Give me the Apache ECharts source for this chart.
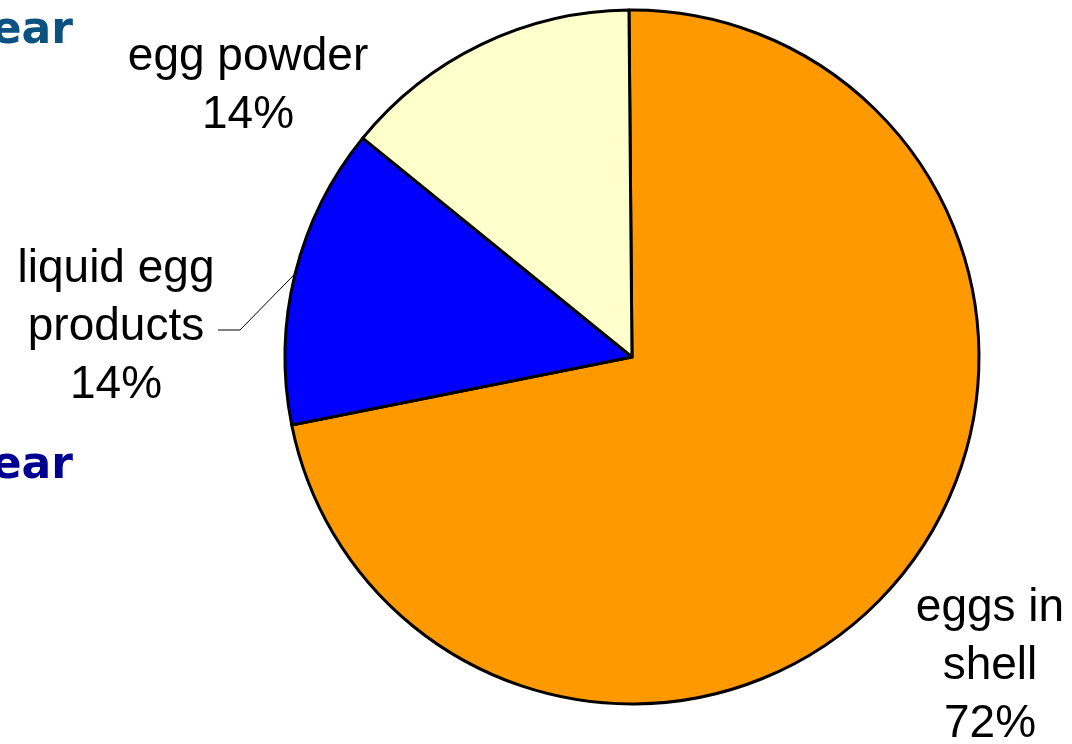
<!DOCTYPE html>
<html>
<head>
<meta charset="utf-8">
<script src="https://cdn.jsdelivr.net/npm/echarts@6/dist/echarts.min.js"></script>
<style>
html,body{margin:0;padding:0;background:#fff;}
#chart{width:1072px;height:744px;}
</style>
</head>
<body>
<div id="chart"></div>
<script>
// ---- data ----
const categories = ['eggs in\nshell', 'liquid egg\nproducts', 'egg powder'];
const shares = [72, 14, 14];
const sliceColors = ['#FF9900', '#0000FF', '#FFFFCC'];
const titleFragments = ['ear', 'ear'];

// ---- layout (label positions, not data) ----
const labelPos = [[990, 666], [116, 327], [248, 86]];

const chart = echarts.init(document.getElementById('chart'), null, {renderer: 'canvas'});

const data = categories.map((name, i) => ({
  name: name,
  value: shares[i],
  itemStyle: {color: sliceColors[i]},
  labelLine: {show: i === 1}
}));

chart.setOption({
  animation: false,
  backgroundColor: '#ffffff',
  graphic: [
    {type: 'text', right: 1072 - 73, top: 10,
     style: {text: titleFragments[0], font: 'bold 44px "DejaVu Sans"', fill: '#0B5281'}},
    {type: 'text', right: 1072 - 73, top: 445,
     style: {text: titleFragments[1], font: 'bold 44px "DejaVu Sans"', fill: '#000090'}}
  ],
  series: [{
    type: 'pie',
    center: [632, 357],
    radius: 347,
    startAngle: 90.5,
    clockwise: true,
    silent: true,
    itemStyle: {borderColor: '#000', borderWidth: 3},
    label: {
      show: true,
      position: 'outside',
      formatter: p => p.name + '\n' + Math.round(p.percent) + '%',
      fontFamily: '"Liberation Sans", Arial, sans-serif',
      fontSize: 46,
      lineHeight: 58,
      color: '#000',
      align: 'center',
      overflow: 'none'
    },
    labelLine: {
      lineStyle: {color: '#000', width: 1},
      smooth: false
    },
    labelLayout: function (params) {
      const i = params.dataIndex;
      const res = {x: labelPos[i][0], y: labelPos[i][1], align: 'center', verticalAlign: 'middle', width: 320};
      if (i === 1 && params.labelLinePoints) {
        const p0 = params.labelLinePoints[0];
        res.labelLinePoints = [p0, [240, 330], [218, 330]];
      }
      return res;
    },
    data: data
  }]
});
</script>
</body>
</html>
